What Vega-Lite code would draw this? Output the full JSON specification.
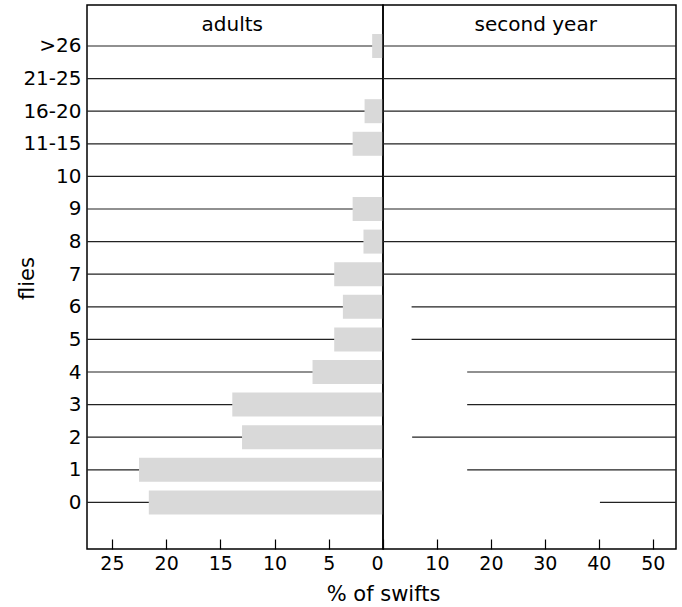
{
  "$schema": "https://vega.github.io/schema/vega-lite/v6.json",
  "padding": {"left": 15, "top": 4, "right": 4, "bottom": 4},
  "background": "white",
  "spacing": 0,
  "bounds": "flush",
  "config": {
    "font": "DejaVu Sans",
    "view": {"stroke": "black", "strokeWidth": 1.5},
    "axis": {"labelColor": "black", "titleColor": "black", "grid": false, "domain": false, "titleFontWeight": "normal"},
    "axisY": {"labelOverlap": false}
  },
  "data": {"values": [
    {"flies": "0", "idx": 0, "adults": 21.6, "second_year": 40.2},
    {"flies": "1", "idx": 1, "adults": 22.5, "second_year": 15.6},
    {"flies": "2", "idx": 2, "adults": 13.0, "second_year": 5.4},
    {"flies": "3", "idx": 3, "adults": 13.9, "second_year": 15.6},
    {"flies": "4", "idx": 4, "adults": 6.5, "second_year": 15.6},
    {"flies": "5", "idx": 5, "adults": 4.5, "second_year": 5.3},
    {"flies": "6", "idx": 6, "adults": 3.7, "second_year": 5.3},
    {"flies": "7", "idx": 7, "adults": 4.5, "second_year": 0},
    {"flies": "8", "idx": 8, "adults": 1.8, "second_year": 0},
    {"flies": "9", "idx": 9, "adults": 2.8, "second_year": 0},
    {"flies": "10", "idx": 10, "adults": 0, "second_year": 0},
    {"flies": "11-15", "idx": 11, "adults": 2.8, "second_year": 0},
    {"flies": "16-20", "idx": 12, "adults": 1.7, "second_year": 0},
    {"flies": "21-25", "idx": 13, "adults": 0, "second_year": 0},
    {"flies": ">26", "idx": 14, "adults": 1.0, "second_year": 0}
  ]},
  "hconcat": [
    {
      "width": 296,
      "height": 544,
      "encoding": {
        "y": {"field": "idx", "type": "quantitative",
          "scale": {"domain": [-1.429, 15.257], "nice": false, "zero": false, "padding": 0},
          "axis": {"values": [0, 1, 2, 3, 4, 5, 6, 7, 8, 9, 10, 11, 12, 13, 14], "ticks": false, "labelPadding": 6, "labelFontSize": 20, "labelOverlap": false,
            "labelExpr": "['0','1','2','3','4','5','6','7','8','9','10','11-15','16-20','21-25','>26'][datum.value]",
            "title": "flies", "titleFontSize": 21, "titleX": -54, "titleY": 273, "titleBaseline": "alphabetic", "titleAlign": "center"}}
      },
      "layer": [
        {
          "mark": {"type": "bar", "orient": "horizontal", "size": 24, "color": "#d9d9d9"},
          "encoding": {
            "x": {"field": "adults", "type": "quantitative",
              "scale": {"domain": [0, 27.3], "reverse": true, "nice": false, "zero": true, "padding": 0},
              "axis": {"values": [0, 5, 10, 15, 20, 25], "ticks": true, "tickSize": -10, "tickColor": "black", "tickWidth": 1.2, "zindex": 1, "labelPadding": 15, "labelFontSize": 19, "title": "% of swifts", "titleFontSize": 21, "titleX": 296, "titleY": 51, "titleAlign": "center", "titleBaseline": "alphabetic"}}
          }
        },
        {
          "mark": {"type": "rule", "color": "#222222", "strokeWidth": 1.2},
          "encoding": {
            "x": {"field": "adults", "type": "quantitative"},
            "x2": {"datum": 27.3}
          }
        },
        {
          "transform": [{"filter": "datum.idx == 14"}],
          "mark": {"type": "text", "fontSize": 20, "baseline": "alphabetic", "align": "center", "color": "black", "font": "DejaVu Sans", "dy": -15, "text": "adults"},
          "encoding": {
            "x": {"datum": 13.9, "type": "quantitative"}
          }
        }
      ]
    },
    {
      "width": 293,
      "height": 544,
      "layer": [
        {
          "mark": {"type": "rule", "color": "#222222", "strokeWidth": 1.2},
          "encoding": {
            "x": {"field": "second_year", "type": "quantitative",
              "scale": {"domain": [0, 54.3], "nice": false, "zero": true},
              "axis": {"values": [10, 20, 30, 40, 50], "ticks": true, "tickSize": -10, "tickColor": "black", "tickWidth": 1.2, "zindex": 1, "labelPadding": 15, "labelFontSize": 19, "title": null}},
            "x2": {"datum": 54.3},
            "y": {"field": "idx", "type": "quantitative",
              "scale": {"domain": [-1.429, 15.257], "nice": false, "zero": false},
              "axis": null}
          }
        },
        {
          "data": {"values": [{"panel": "second year"}]},
          "mark": {"type": "text", "fontSize": 20, "baseline": "alphabetic", "align": "center", "color": "black", "font": "DejaVu Sans"},
          "encoding": {
            "x": {"datum": 28.3, "type": "quantitative"},
            "y": {"datum": 14.46, "type": "quantitative"},
            "text": {"field": "panel", "type": "nominal"}
          }
        }
      ]
    }
  ]
}
